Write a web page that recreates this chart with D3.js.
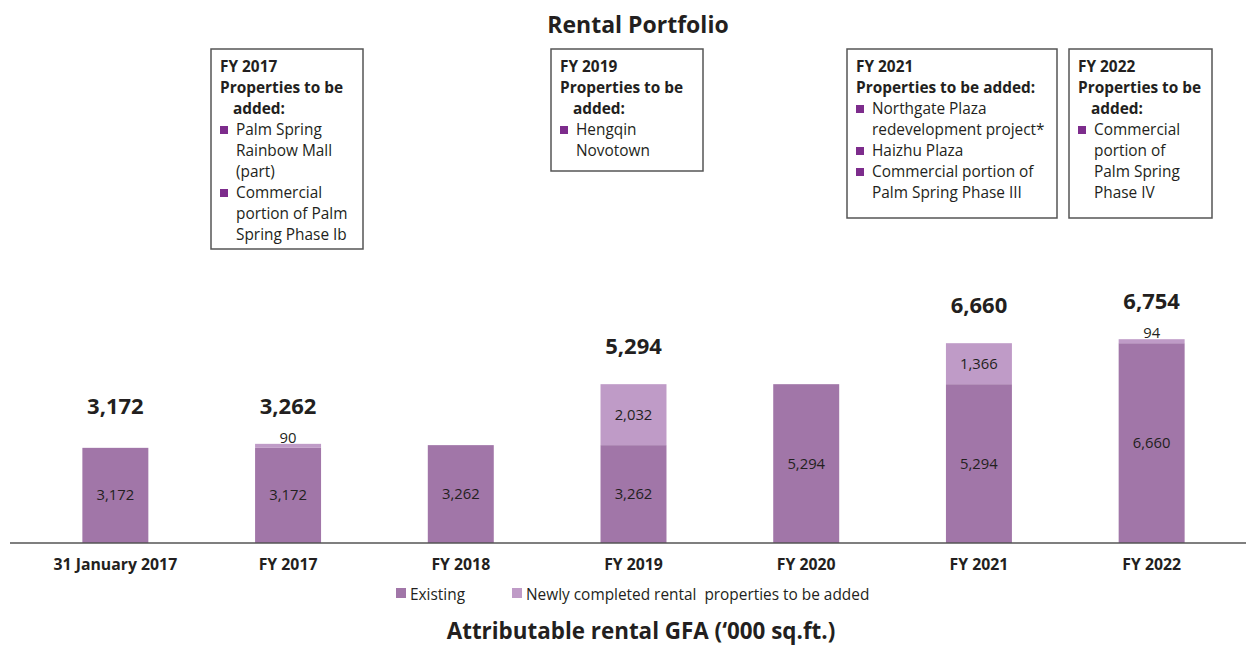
<!DOCTYPE html>
<html>
<head>
<meta charset="utf-8">
<script src="https://cdn.jsdelivr.net/npm/d3@7"></script>
<style>
  body { margin: 0; background: #fff; }
  svg { display: block; font-family: "Open Sans", sans-serif; }
</style>
</head>
<body>
<div id="chart-area"></div>
<script>
var categories = ["31 January 2017", "FY 2017", "FY 2018", "FY 2019", "FY 2020", "FY 2021", "FY 2022"];
var existing = [3172, 3172, 3262, 3262, 5294, 5294, 6660];
var added = [0, 90, 0, 2032, 0, 1366, 94];
var showTotal = [true, true, false, true, false, true, true];
var seriesNames = ["Existing", "Newly completed rental  properties to be added"];

var noteYears = ["FY 2017", "FY 2019", "FY 2021", "FY 2022"];
var noteHeads = [
    ["FY 2017", "Properties to be", "  added:"],
    ["FY 2019", "Properties to be", "  added:"],
    ["FY 2021", "Properties to be added:"],
    ["FY 2022", "Properties to be", "  added:"]
];
var noteItems = [
    [["Palm Spring", "Rainbow Mall", "(part)"], ["Commercial", "portion of Palm", "Spring Phase Ib"]],
    [["Hengqin", "Novotown"]],
    [["Northgate Plaza", "redevelopment project*"], ["Haizhu Plaza"], ["Commercial portion of", "Palm Spring Phase III"]],
    [["Commercial", "portion of", "Palm Spring", "Phase IV"]]
];

var W = 1246, H = 645;
var baseY = 543;
var colExisting = "#a176a8", colAdded = "#bf9bc7", colBullet = "#7d2c8c";
var ink = "#231f20";

var svg = d3.select("#chart-area").append("svg")
    .attr("width", W)
    .attr("height", H);

var x = d3.scaleBand()
    .domain(categories)
    .range([29, 1238])
    .paddingInner(0.618)
    .paddingOuter(0.309);

var y = d3.scaleLinear()
    .domain([0, 7000])
    .range([baseY, baseY - 210]);

svg.append("text")
    .attr("x", 638).attr("y", 33)
    .attr("text-anchor", "middle")
    .attr("font-size", 23).attr("font-weight", "bold")
    .attr("fill", ink)
    .text("Rental Portfolio");

// bars
var g = svg.append("g");
categories.forEach(function (c, i) {
    var bx = x(c), bw = x.bandwidth();
    g.append("rect")
        .attr("x", bx).attr("width", bw)
        .attr("y", y(existing[i]))
        .attr("height", baseY - y(existing[i]))
        .attr("fill", colExisting);
    g.append("text")
        .attr("x", bx + bw / 2)
        .attr("y", (y(existing[i]) + baseY) / 2 + 5)
        .attr("text-anchor", "middle")
        .attr("font-size", 14.8).attr("fill", ink)
        .text(d3.format(",")(existing[i]));
    if (added[i] > 0) {
        var top = y(existing[i] + added[i]);
        var h = Math.max(y(existing[i]) - top, 4);
        g.append("rect")
            .attr("x", bx).attr("width", bw)
            .attr("y", y(existing[i]) - h)
            .attr("height", h)
            .attr("fill", colAdded);
        var small = h < 20;
        g.append("text")
            .attr("x", bx + bw / 2)
            .attr("y", small ? y(existing[i]) - h - 1 : y(existing[i]) - h / 2 + 5)
            .attr("text-anchor", "middle")
            .attr("font-size", 14.8).attr("fill", ink)
            .text(d3.format(",")(added[i]));
    }
    if (showTotal[i]) {
        var tot = existing[i] + added[i];
        g.append("text")
            .attr("x", bx + bw / 2)
            .attr("y", Math.min(y(tot), y(existing[i]) - 4) - 30)
            .attr("text-anchor", "middle")
            .attr("font-size", 22).attr("font-weight", "bold")
            .attr("fill", ink)
            .text(d3.format(",")(tot));
    }
});

// axis
var xAxis = svg.append("g")
    .attr("transform", "translate(0," + baseY + ")")
    .call(d3.axisBottom(x).tickSize(0).tickPadding(0));
xAxis.select(".domain").remove();
xAxis.append("line")
    .attr("x1", 10).attr("x2", W)
    .attr("stroke", "#555").attr("stroke-width", 1.5);
xAxis.selectAll(".tick text")
    .attr("y", 27).attr("dy", 0)
    .attr("font-family", "'Open Sans', sans-serif")
    .attr("font-size", 15.8).attr("font-weight", "bold")
    .attr("fill", ink);

// legend
var legX = [396, 512];
seriesNames.forEach(function (s, i) {
    svg.append("rect")
        .attr("x", legX[i]).attr("y", 588)
        .attr("width", 10).attr("height", 10)
        .attr("fill", i === 0 ? colExisting : colAdded);
    svg.append("text")
        .attr("x", legX[i] + 14).attr("y", 600)
        .attr("font-size", 15.4).attr("fill", ink)
        .style("white-space", "pre")
        .text(s);
});

svg.append("text")
    .attr("x", 641).attr("y", 639)
    .attr("text-anchor", "middle")
    .attr("font-size", 22.4).attr("font-weight", "bold")
    .attr("fill", ink)
    .text("Attributable rental GFA (\u2018000 sq.ft.)");

// annotation boxes
var boxes = [
    {x: 211, y: 49, w: 152, h: 200},
    {x: 551, y: 49, w: 152, h: 122},
    {x: 847, y: 49, w: 210, h: 169},
    {x: 1069, y: 49, w: 143, h: 169}
];
var lineH = 21;
noteYears.forEach(function (yr, k) {
    var b = boxes[k];
    var bg = svg.append("g");
    bg.append("rect")
        .attr("x", b.x).attr("y", b.y)
        .attr("width", b.w).attr("height", b.h)
        .attr("fill", "#fff")
        .attr("stroke", "#555").attr("stroke-width", 1.5);
    var ly = b.y + 23;
    noteHeads[k].forEach(function (t) {
        var indent = t.indexOf("  ") === 0;
        bg.append("text")
            .attr("x", b.x + (indent ? 22 : 9)).attr("y", ly)
            .attr("font-size", 15.4).attr("font-weight", "bold")
            .attr("fill", ink)
            .text(t.trim());
        ly += lineH;
    });
    noteItems[k].forEach(function (item) {
        bg.append("rect")
            .attr("x", b.x + 9).attr("y", ly - 9)
            .attr("width", 8).attr("height", 8)
            .attr("fill", colBullet);
        item.forEach(function (t) {
            bg.append("text")
                .attr("x", b.x + 25).attr("y", ly)
                .attr("font-size", 15.4)
                .attr("fill", ink)
                .text(t);
            ly += lineH;
        });
    });
});
</script>
</body>
</html>
